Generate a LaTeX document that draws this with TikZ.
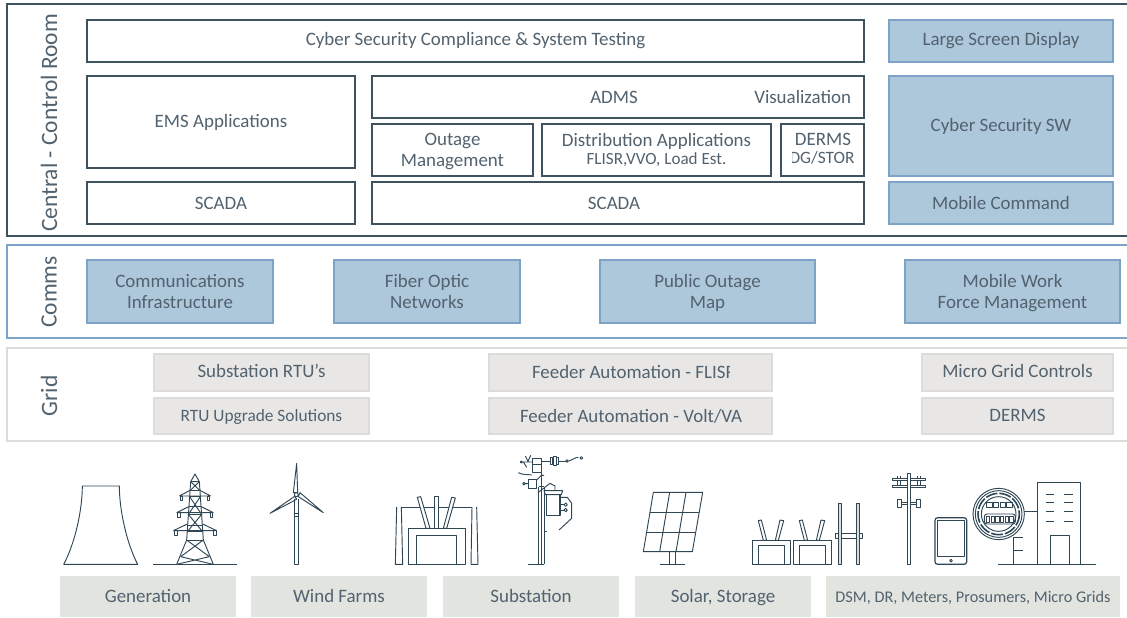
\documentclass[tikz,border=0pt]{standalone}
\usepackage{fontspec}
\setmainfont{Carlito}
\definecolor{ink}{HTML}{3F525E}
\definecolor{txt}{HTML}{52626E}
\definecolor{bluefill}{HTML}{ADC7DB}
\definecolor{blueline}{HTML}{7EA3C8}
\definecolor{greyfill}{HTML}{E8E7E6}
\definecolor{greyline}{HTML}{DCDDDB}
\definecolor{basefill}{HTML}{E2E4E0}
\definecolor{icon}{HTML}{2F4654}
\newcommand\bx[7]{\node[#1,minimum width={(#5-#3)*0.75pt},minimum height={(#6-#4)*0.75pt}] (#2) at ({(#3+#5)/2},{(#4+#6)/2}) {#7};}
\newcommand\nd[1]{\raisebox{0pt}[\height][0pt]{#1}}
\tikzset{
  allbox/.style={inner sep=0pt,outer sep=0pt,align=center,text=txt,font=\fontsize{14.2}{15.8}\selectfont},
  darkbox/.style={allbox,draw=ink,line width=1.1pt,fill=white},
  bluebox/.style={allbox,draw=blueline,line width=1.1pt,fill=bluefill},
  greybox/.style={allbox,draw=greyline,line width=1.1pt,fill=greyfill,text height=11pt,text depth=3.5pt},
  basebox/.style={allbox,fill=basefill,text height=11.5pt,text depth=3pt},
  label/.style={inner sep=0pt,outer sep=0pt,text=txt,font=\fontsize{14.2}{15.8}\selectfont},
  sidelabel/.style={inner sep=0pt,outer sep=0pt,text=txt,rotate=90,font=\fontsize{17.6}{19}\selectfont},
  ic/.style={draw=icon,line width=0.7pt,line join=round},
}
\begin{document}
\begin{tikzpicture}[x=0.75pt,y=-0.75pt]
\useasboundingbox (0,0) rectangle (1127,617);
\clip (0,0) rectangle (1127,617);
% bands
\draw[ink,line width=1.1pt] (7,4) -- (1135,4) -- (1135,236) -- (7,236) -- cycle;
\draw[blueline,line width=1.1pt] (7,245) -- (1135,245) -- (1135,338) -- (7,338) -- cycle;
\draw[greyline,line width=1.1pt] (7,348) -- (1135,348) -- (1135,441) -- (7,441) -- cycle;
\node[sidelabel] (central) at (49,123) {Central - Control Room};
\node[sidelabel] (comms) at (49,292) {Comms};
\node[sidelabel] (grid) at (49,396) {Grid};
% central
\bx{darkbox}{cyber}{87}{20}{864}{62}{Cyber Security Compliance \& System Testing}
\bx{bluebox}{large}{889}{20}{1113}{62}{Large Screen Display}
\bx{darkbox}{ems}{87}{76}{355}{168}{EMS Applications}
\bx{darkbox}{scadaA}{87}{182}{355}{224}{SCADA}
\bx{darkbox}{admsbox}{372}{76}{864}{118}{}
\node[label] (adms) at (614,97) {ADMS};
\node[label,anchor=east] (vis) at (851,97) {Visualization};
\bx{darkbox}{outage}{372}{124}{533}{176}{Outage\\\nd{Management}}
\bx{darkbox}{dist}{542}{124}{771}{176}{Distribution Applications\\[-2.5pt]{\fontsize{12.8}{13}\selectfont FLISR,VVO, Load Est.}}
\bx{darkbox}{dermsbox}{781}{124}{864}{176}{}
\node[label] (derms) at (823,139) {DERMS};
\begin{scope}
\clip (792,146) rectangle (862,172);
\node[label,font=\fontsize{13}{13}\selectfont] (dg) at (822,158) {DG/STOR};
\end{scope}
\bx{darkbox}{scadaB}{372}{182}{864}{224}{}
\node[label] (scadaBt) at (614,203) {SCADA};
\bx{bluebox}{cybersw}{889}{76}{1113}{176}{Cyber Security SW}
\bx{bluebox}{mobilec}{889}{182}{1113}{224}{Mobile Command}
% comms
\bx{bluebox}{infra}{87}{260}{273}{323}{Communications\\Infrastructure}
\bx{bluebox}{fiber}{334}{260}{520}{323}{Fiber Optic\\Networks}
\bx{bluebox}{public}{600}{260}{815}{323}{Public Outage\\\nd{Map}}
\bx{bluebox}{mwork}{905}{260}{1120}{323}{Mobile Work\\\nd{Force Management}}
% grid
\bx{greybox}{rtu}{154}{354}{369}{391}{Substation RTU’s}
\bx{greybox}{upg}{154}{398}{369}{434}{\fontsize{13}{14}\selectfont RTU Upgrade Solutions}
\bx{greybox}{flisrbox}{489}{354}{772}{391}{}
\bx{greybox}{voltbox}{489}{398}{772}{434}{}
\begin{scope}
\clip (490,356) rectangle (729,389);
\node[label,anchor=west] (flisr) at (532,372) {Feeder Automation - FLISR};
\end{scope}
\begin{scope}
\clip (490,400) rectangle (742.5,432);
\node[label,anchor=west] (volt) at (520,416) {Feeder Automation - Volt/VAR};
\end{scope}
\bx{greybox}{micro}{922}{354}{1113}{391}{Micro Grid Controls}
\bx{greybox}{dermsg}{922}{398}{1113}{434}{DERMS}
% base
\bx{basebox}{gen}{60}{576}{236}{617}{Generation}
\bx{basebox}{wind}{251}{576}{427}{617}{Wind Farms}
\bx{basebox}{subst}{443}{576}{619}{617}{Substation}
\bx{basebox}{solar}{635}{576}{811}{617}{Solar, Storage}
\bx{basebox}{dsm}{826}{576}{1120}{617}{\fontsize{12.2}{14}\selectfont DSM, DR, Meters, Prosumers, Micro Grids}
% icons, zoom 1 coordinates
\begin{scope}[shift={(0,450)},x=0.25pt,y=-0.25pt]
 % cooling tower
 \draw[ic] (247,108) -- (358,108) .. controls (358,180) and (380,280) .. (413,343) -- (191,343) .. controls (225,280) and (247,180) .. (247,108);
 % pylon
 \draw[ic] (460,343) -- (710,343);
 \draw[ic] (572,95) -- (585,72) -- (598,95) -- (572,95);
 \draw[ic] (572,95) -- (560,270) -- (530,343);
 \draw[ic] (598,95) -- (610,270) -- (640,343);
 \draw[ic] (572,120) -- (598,95) (598,120) -- (572,95);
 \draw[ic] (571,120) -- (597,120) (569,140) -- (601,140) (566,170) -- (604,170) (564,192) -- (606,192) (562,225) -- (608,225) (561,245) -- (609,245) (560,270) -- (610,270);
 \draw[ic] (569,140) -- (604,192) (601,140) -- (566,192);
 \draw[ic] (564,192) -- (608,245) (606,192) -- (562,245);
 \draw[ic] (560,270) -- (628,320) (610,270) -- (542,320) (542,320) -- (640,343) (628,320) -- (530,343);
 \draw[ic] (538,138) -- (572,120) (632,138) -- (598,120) (538,138) -- (632,138);
 \draw[ic] (530,188) -- (566,170) (640,188) -- (604,170) (530,188) -- (640,188);
 \draw[ic] (520,242) -- (562,222) (650,242) -- (608,222) (520,242) -- (650,242);
 \draw[ic] (541,138) rectangle (548,150) (622,138) rectangle (629,150);
 \draw[ic] (533,188) rectangle (541,201) (630,188) rectangle (638,201);
 \draw[ic] (523,242) rectangle (531,256) (640,242) rectangle (648,256);
 % turbine
 \draw[ic] (884,146) -- (884,343) -- (896,343) -- (896,146);
 \draw[ic] (884,190) -- (896,190) (884,198) -- (896,198);
 \draw[ic] (890,40) -- (880,128) -- (893,128) -- cycle;
 \draw[ic] (810,190) -- (884,139) -- (890,148) -- cycle;
 \draw[ic] (970,188) -- (900,128) -- (895,140) -- cycle;
 \draw[ic,fill=white] (889,134) circle (6);
\end{scope}
% icons, zoom 2 coordinates
\begin{scope}[shift={(380,450)},x=0.25pt,y=-0.25pt]
 % transformer
 \draw[ic] (50,171) -- (290,171);
 \draw[ic,fill=white] (50,171) -- (46,343) -- (68,343) -- (64,171);
 \draw[ic,fill=white] (276,171) -- (273,343) -- (294,343) -- (290,171);
 \draw[ic,fill=white] (112,142) -- (122,140) -- (150,235) -- (138,235) -- cycle;
 \draw[ic,fill=white] (164,140) -- (174,140) -- (174,235) -- (164,235) -- cycle;
 \draw[ic,fill=white] (215,142) -- (226,144) -- (200,235) -- (190,235) -- cycle;
 \draw[ic,fill=white] (85,235) rectangle (257,343);
 \draw[ic] (110,343) -- (110,255) -- (230,255) -- (230,343);
 % pole
 \draw[ic] (444,343) -- (492,343);
 \draw[ic] (474,110) -- (474,343) (484,68) -- (484,343) (492,110) -- (492,343);
 \draw[ic] (456,68) -- (484,68) -- (484,24) -- (456,24) -- cycle;
 \draw[ic] (456,44) -- (484,44);
 \draw[ic] (420,36) -- (456,36) (430,36) -- (440,52) (436,18) -- (444,34) (452,16) -- (444,34);
 \draw[ic] (424,36) circle (3);
 \draw[ic] (484,33) -- (558,33);
 \draw[ic,fill=white] (510,22) rectangle (516,44) (520,20) rectangle (528,46) (530,22) rectangle (536,44);
 \draw[ic] (561,33) circle (4);
 \draw[ic] (566,33) .. controls (578,33) and (580,22) .. (595,22);
 \draw[ic] (604,24) circle (4);
 \draw[ic] (415,68) .. controls (430,76) and (440,72) .. (455,75);
 \draw[ic] (446,88) rectangle (470,116);
 \draw[ic] (470,90) -- (484,76) -- (492,76);
 \draw[ic] (432,101) circle (4) (436,101) -- (446,101);
 \draw[ic] (474,128) -- (510,100) -- (525,108) -- (525,120);
 \draw[ic] (476,108) -- (492,108);
 \draw[ic,fill=white] (492,122) -- (548,122) -- (544,134) -- (496,134) -- cycle;
 \draw[ic,line width=1.2pt] (500,134) rectangle (540,196);
 \draw[ic] (540,142) -- (562,142) -- (575,160) -- (575,205) -- (537,240);
 \draw[ic] (540,164) -- (552,164) (540,180) -- (552,180);
 \draw[ic] (557,164) circle (5) (557,180) circle (5);
 \draw[ic] (492,244) -- (502,244);
 % solar
 \draw[ic] (820,127) -- (968,127) -- (937,305) -- (790,305) -- cycle;
 \draw[ic] (810,187) -- (958,187) (800,246) -- (947,246);
 \draw[ic] (869,127) -- (839,305) (918,127) -- (888,305);
 \draw[ic] (868,305) -- (868,343) (886,305) -- (886,343) (840,343) -- (915,343);
\end{scope}
% icons, zoom 3 coordinates
\begin{scope}[shift={(740,450)},x=0.25pt,y=-0.25pt]
 % storage
 \foreach \d in {0,123}{
  \begin{scope}[xshift=\d*0.25pt]
  \draw[ic] (55,212) -- (64,210) -- (80,271) -- (70,271) -- cycle;
  \draw[ic] (120,210) -- (131,212) -- (115,271) -- (106,271) -- cycle;
  \draw[ic] (37,271) rectangle (150,343);
  \draw[ic] (54,343) -- (54,286) -- (134,286) -- (134,343);
  \end{scope}
 }
 \draw[ic] (285,250) rectangle (368,264);
 \draw[ic,fill=greyline] (294,160) rectangle (303,343);
 \draw[ic,fill=greyline] (349,160) rectangle (358,343);
 % pole with cross arms
 \draw[ic] (458,84) rectangle (557,92) (458,105) rectangle (557,112);
 \draw[ic] (472,78) -- (472,84) (482,78) -- (482,84) (532,78) -- (532,84) (541,78) -- (541,84);
 \draw[ic] (472,92) -- (472,105) (482,92) -- (482,105) (532,92) -- (532,105) (541,92) -- (541,105);
 \draw[ic] (484,157) -- (530,157) (484,163) -- (530,163);
 \draw[ic] (472,148) rectangle (484,172) (530,148) rectangle (542,172);
 \draw[ic,fill=white] (502,70) rectangle (511,343);
 % tablet
 \draw[ic,line width=0.9pt,rounded corners=2pt] (585,203) rectangle (680,343);
 \draw[ic] (593,211) rectangle (673,320);
 \draw[ic] (633,332) circle (4);
 % meter, building
 \draw[ic] (775,343) -- (1068,343);
 \draw[ic] (821,262) -- (821,343) (821,262) -- (850,262) (821,300) -- (850,300);
 \draw[ic] (853,183) -- (893,183);
 \draw[ic] (893,343) -- (893,97) -- (1022,97) -- (1022,343);
 \draw[ic] (931,343) -- (931,257) -- (989,257) -- (989,343);
 \foreach \y in {132,158,185,213}{\draw[ic] (917,\y) -- (943,\y) (973,\y) -- (998,\y);}
 \draw[ic,fill=white] (776,192) circle (77);
 \draw[ic] (776,192) circle (70);
 \draw[ic,line width=1.2pt,dash pattern=on 9pt off 1.5pt] (776,192) circle (62);
 \draw[ic] (776,192) circle (52);
 \foreach \x in {740,760,780,800}{\draw[ic] (\x,158) rectangle ++(16,14);}
 \draw[ic,rounded corners=2pt] (733,192) rectangle (826,222);
 \foreach \x in {739,753,767,781,795,809}{\draw[ic] (\x,198) rectangle ++(10,18);}
\end{scope}
\end{tikzpicture}
\end{document}
